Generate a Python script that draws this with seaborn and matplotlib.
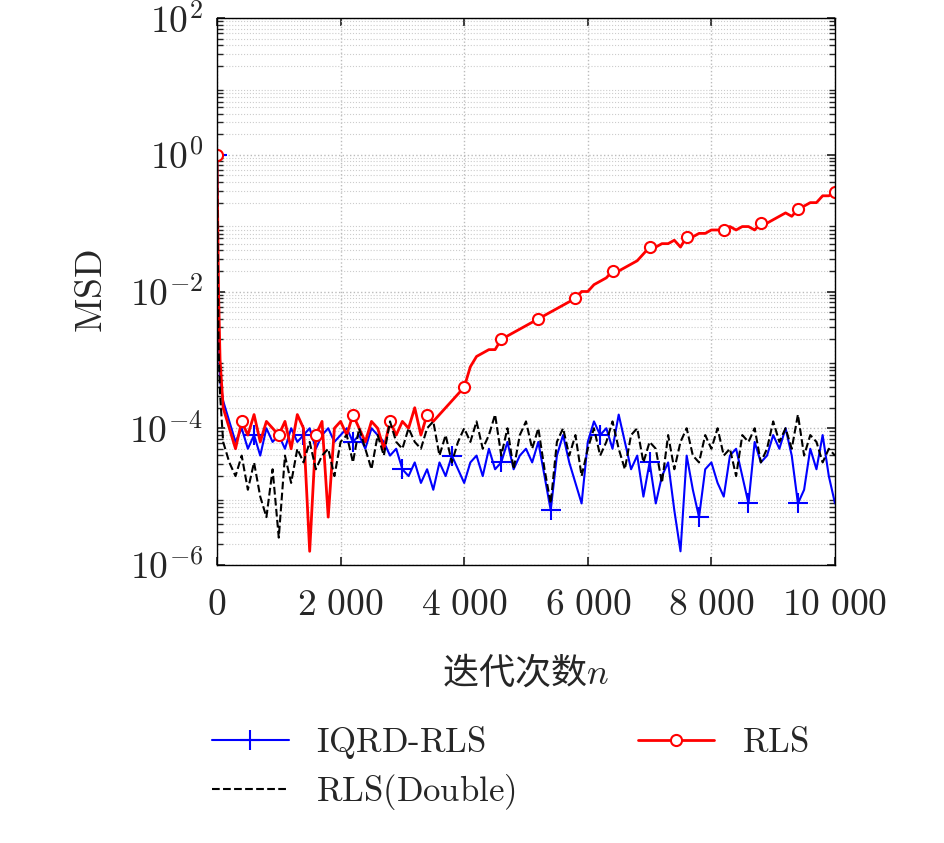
import matplotlib
matplotlib.use("Agg")
import matplotlib.pyplot as plt
import matplotlib.ticker as mticker
import numpy as np
import pandas as pd
import seaborn as sns

sns.set_theme(style="ticks")
plt.rcParams['font.family'] = ['DejaVu Serif', 'Noto Sans CJK SC']
plt.rcParams['mathtext.fontset'] = 'cm'

# iteration index
n = [0, 25, 50] + list(range(100, 10001, 100))

# log10(MSD)
rls_log = [0, -2.0, -3.0,
           -3.7, -4.0, -4.3, -3.9, -4.1, -3.8, -4.2, -3.9, -4.0, -4.1,
           -3.9, -4.3, -3.8, -4.0, -5.8, -4.1, -3.9, -5.3, -4.0, -3.9,
           -4.1, -3.8, -4.0, -4.2, -3.9, -4.0, -4.3, -3.9, -4.1, -3.9,
           -4.0, -3.7, -4.1, -3.8, -3.9, -3.8, -3.7, -3.6, -3.5, -3.4,
           -3.1, -2.95, -2.9, -2.85, -2.85, -2.7, -2.65, -2.6, -2.55, -2.5,
           -2.45, -2.4, -2.35, -2.3, -2.25, -2.2, -2.15, -2.1, -2.0, -2.0,
           -1.9, -1.85, -1.8, -1.7, -1.7, -1.65, -1.6, -1.55, -1.45, -1.35,
           -1.35, -1.3, -1.3, -1.25, -1.35, -1.2, -1.2, -1.15, -1.15, -1.1,
           -1.1, -1.1, -1.05, -1.1, -1.05, -1.05, -1.1, -1.0, -1.0, -0.95,
           -0.9, -0.85, -0.9, -0.8, -0.75, -0.7, -0.7, -0.6, -0.6, -0.55]

iqrd_log = [0, -2.5, -3.3,
            -3.6, -3.9, -4.2, -4.0, -4.3, -4.1, -4.4, -4.0, -4.2, -4.1,
            -4.3, -4.0, -4.2, -4.1, -4.0, -4.3, -4.1, -4.0, -4.2, -4.1,
            -4.0, -4.2, -4.1, -4.3, -4.0, -4.1, -4.2, -4.4, -4.3, -4.6,
            -4.7, -4.5, -4.8, -4.6, -4.9, -4.5, -4.7, -4.4, -4.6, -4.8,
            -4.5, -4.4, -4.7, -4.3, -4.6, -4.5, -4.2, -4.6, -4.4, -4.3,
            -4.5, -4.2, -4.7, -5.2, -4.4, -4.1, -4.5, -4.8, -5.1, -4.2,
            -3.9, -4.1, -4.0, -4.3, -3.8, -4.2, -4.6, -4.4, -5.0, -4.5,
            -5.1, -4.7, -4.5, -5.2, -5.8, -4.4, -4.9, -5.3, -4.6, -4.5,
            -4.8, -5.0, -4.4, -4.3, -4.7, -5.1, -4.2, -4.5, -4.4, -4.1,
            -4.3, -4.0, -4.4, -5.1, -4.9, -4.3, -4.6, -4.1, -4.7, -5.1]

double_log = [0, -2.8, -3.5,
              -4.2, -4.5, -4.7, -4.4, -4.9, -4.5, -5.0, -5.3, -4.6, -5.6,
              -4.4, -4.8, -4.3, -4.5, -4.2, -4.6, -4.4, -4.3, -4.7, -4.2,
              -4.1, -4.5, -4.0, -4.3, -4.6, -4.1, -4.4, -3.9, -4.2, -4.3,
              -4.0, -4.2, -4.3, -4.0, -3.9, -4.4, -4.1, -4.5, -4.2, -4.0,
              -4.2, -3.9, -4.3, -4.1, -3.8, -4.4, -4.0, -4.6, -4.1, -3.9,
              -4.3, -4.0, -4.6, -5.1, -4.2, -4.0, -4.4, -4.1, -4.7, -4.3,
              -4.0, -4.4, -4.2, -3.9, -4.3, -4.6, -4.1, -4.0, -4.5, -4.2,
              -4.3, -4.8, -4.1, -4.6, -4.2, -4.0, -4.4, -4.5, -4.1, -4.3,
              -4.0, -4.4, -4.3, -4.7, -4.1, -4.2, -4.0, -4.5, -4.3, -3.9,
              -4.2, -4.0, -4.3, -3.8, -4.4, -4.1, -4.2, -4.5, -4.3, -4.4]

df = pd.DataFrame({"n": n,
                   "IQRD-RLS": np.power(10.0, iqrd_log),
                   "RLS": np.power(10.0, rls_log),
                   "RLS(Double)": np.power(10.0, double_log)})

fig = plt.figure(figsize=(9.45, 8.43), dpi=100)
ax = fig.add_axes([0.2296, 0.3298, 0.654, 0.6488])

sns.lineplot(data=df, x="n", y="IQRD-RLS", ax=ax, color="blue", lw=1.5)
sns.lineplot(data=df, x="n", y="RLS", ax=ax, color="red", lw=2)
sns.lineplot(data=df, x="n", y="RLS(Double)", ax=ax, color="black", lw=1.5)

l_iqrd, l_rls, l_dbl = ax.lines[:3]
l_iqrd.set(marker="+", markersize=14, markevery=8, mew=1.5, mec="blue", ls="-")
l_rls.set(marker="o", markersize=8, markevery=6, mfc="white", mec="red", mew=1.5, ls="-")
l_dbl.set(ls="--")

ax.set_yscale("log")
ax.set_xlim(0, 10000)
ax.set_ylim(1e-6, 1e2)
ax.set_xticks(range(0, 10001, 2000))
ax.xaxis.set_major_formatter(mticker.FuncFormatter(
    lambda v, p: "$" + f"{int(v):,}".replace(",", r"\ ") + "$"))
ax.set_yticks([1e-6, 1e-4, 1e-2, 1e0, 1e2])
ax.yaxis.set_major_formatter(mticker.FuncFormatter(
    lambda v, p: r"$10^{%d}$" % round(np.log10(v))))
ax.yaxis.set_minor_locator(mticker.LogLocator(base=10, subs=np.arange(2, 10), numticks=20))
ax.yaxis.set_minor_formatter(mticker.NullFormatter())
ax.tick_params(which="both", direction="in", top=True, right=True, labelsize=27)
ax.tick_params(axis="x", pad=16)
ax.tick_params(axis="y", pad=10)
ax.grid(True, which="major", color="#bbbbbb", ls=":", lw=1)
ax.grid(True, which="minor", color="#cccccc", ls=":", lw=0.8)
for s in ax.spines.values():
    s.set_color("black")
    s.set_linewidth(1)

ax.set_ylabel(r"$\mathrm{MSD}$", fontsize=27, labelpad=14)
ax.set_xlabel(r"迭代次数$n$", fontsize=26, family=["Noto Sans CJK SC", "DejaVu Serif"], labelpad=22)

h = [l_iqrd, l_dbl, l_rls]
lab = [r"$\mathrm{IQRD\text{-}RLS}$", r"$\mathrm{RLS(Double)}$", r"$\mathrm{RLS}$"]
fig.legend(h, lab, loc="lower center", bbox_to_anchor=(0.54, 0.0), ncol=2,
           frameon=False, fontsize=25, handlelength=2.2, columnspacing=3.5,
           labelspacing=0.3)

fig.savefig("out.png", dpi=100)
